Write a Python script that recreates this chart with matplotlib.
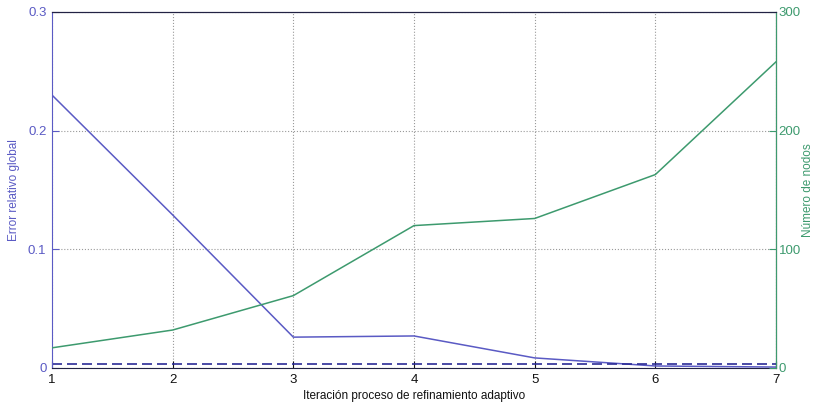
import matplotlib
matplotlib.use("Agg")
import matplotlib.pyplot as plt

plt.rcParams['font.family'] = ['Liberation Sans Narrow', 'Liberation Sans', 'DejaVu Sans']

# Adaptive refinement iterations
iterations = [1, 2, 3, 4, 5, 6, 7]
# Global relative error per iteration
rel_error = [0.230, 0.129, 0.026, 0.027, 0.0085, 0.0017, 0.0008]
# Target tolerance
tolerance = 0.003
# Number of nodes per iteration
num_nodes = [17, 32, 61, 120, 126, 163, 258]

blue = '#5a5ac4'
navy = '#2b2b96'
green = '#3d9a6e'

fig = plt.figure(figsize=(8.13, 4.09), dpi=100)
ax = fig.add_axes([52/813, 1 - 368/409, (776-52)/813, (368-12)/409])
ax2 = ax.twinx()

ax.plot(iterations, rel_error, color=blue, lw=1.1)
ax.plot([iterations[0], iterations[-1]], [tolerance, tolerance], color=navy, lw=1.2, ls=(0, (6, 3)))
ax2.plot(iterations, num_nodes, color=green, lw=1.1)

ax.set_xlim(1, 7)
ax.set_ylim(0, 0.3)
ax2.set_ylim(0, 300)
ax.set_xticks(iterations)
ax.set_yticks([0, 0.1, 0.2, 0.3])
ax.set_yticklabels(['0', '0.1', '0.2', '0.3'])
ax2.set_yticks([0, 100, 200, 300])

ax.grid(True, ls=':', color='#9a9a9a', lw=0.8)

ax.tick_params(axis='x', direction='in', length=5, colors='#111111', labelsize=9.5, pad=4)
ax.tick_params(axis='y', direction='in', length=5, colors=blue, labelsize=9.5, pad=4)
ax2.tick_params(axis='y', direction='in', length=5, colors=green, labelsize=9.5, pad=2)

ax.spines['left'].set_color(blue)
ax.spines['top'].set_color('#222244')
ax.spines['bottom'].set_color('#222244')
ax2.spines['left'].set_visible(False)
ax2.spines['right'].set_color(green)
ax2.spines['top'].set_color('#222244')
ax2.spines['bottom'].set_visible(False)

ax.set_xlabel('Iteración proceso de refinamiento adaptivo', fontsize=8.5, color='#111111', labelpad=3)
ax.set_ylabel('Error relativo global', fontsize=8.5, color=blue, labelpad=6)
ax2.set_ylabel('Número de nodos', fontsize=8.5, color=green, rotation=90, labelpad=1)

fig.savefig('out.png', dpi=100)
